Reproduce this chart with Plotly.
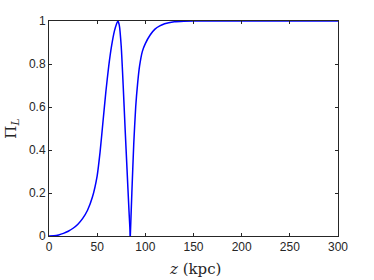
import plotly.graph_objects as go

# Values
z_left = [0, 5, 10, 15, 20, 25, 30, 35, 40, 45, 50, 53, 56, 59, 62, 65, 68, 70, 71.5,
          73, 75, 77, 79, 81, 83, 84.4]
pi_left = [0, 0.001, 0.005, 0.012, 0.022, 0.036, 0.055, 0.082, 0.12, 0.18, 0.28, 0.39,
           0.53, 0.67, 0.79, 0.885, 0.955, 0.985, 1.0, 0.98, 0.88, 0.70, 0.50, 0.31, 0.12, 0.0]
z_right = [84.4, 86, 88, 90, 92, 94, 97, 100, 105, 110, 115, 120, 130, 140, 150, 200, 250, 300]
pi_right = [0.0, 0.20, 0.43, 0.60, 0.71, 0.79, 0.86, 0.895, 0.935, 0.962, 0.977, 0.987,
            0.996, 0.999, 1.0, 1.0, 1.0, 1.0]

x_ticks = [0, 50, 100, 150, 200, 250, 300]
y_ticks = [0, 0.2, 0.4, 0.6, 0.8, 1]
y_tick_text = ["0", "0.2", "0.4", "0.6", "0.8", "1"]

line_style = dict(color="#0000ff", width=1.5, shape="spline", smoothing=0.6)

fig = go.Figure()
fig.add_trace(go.Scatter(x=z_left, y=pi_left, mode="lines", line=line_style, showlegend=False))
fig.add_trace(go.Scatter(x=z_right, y=pi_right, mode="lines", line=line_style, showlegend=False))

axis_common = dict(
    showline=True, mirror="ticks", linecolor="#262626", linewidth=1,
    ticks="inside", ticklen=3, tickwidth=1, tickcolor="#262626",
    showgrid=False, zeroline=False, automargin=False,
    tickfont=dict(family="Liberation Sans, Arial, sans-serif", size=12, color="#262626"),
)

title_font = dict(family="DejaVu Serif, Liberation Serif, serif", size=15, color="#262626")

fig.update_layout(
    width=374, height=280,
    margin=dict(l=49, r=35.5, t=20.7, b=44.3, autoexpand=False),
    paper_bgcolor="white", plot_bgcolor="white",
    xaxis=dict(range=[0, 300], tickvals=x_ticks, ticktext=[str(v) for v in x_ticks], **axis_common),
    yaxis=dict(range=[0, 1], tickvals=y_ticks, ticktext=y_tick_text, **axis_common),
    annotations=[
        dict(text="<i>z</i> (kpc)", xref="paper", yref="paper", x=0.506, y=-0.154,
             xanchor="center", yanchor="middle", showarrow=False, font=title_font),
        dict(text="Π<sub><i>L</i></sub>", xref="paper", yref="paper", x=-0.131, y=0.5,
             xanchor="center", yanchor="middle", showarrow=False, textangle=-90, font=title_font),
    ],
)

fig.write_html(
    "out.html",
    config={"displayModeBar": False},
    post_script="document.body.style.margin='0';document.body.style.overflow='hidden';",
)
